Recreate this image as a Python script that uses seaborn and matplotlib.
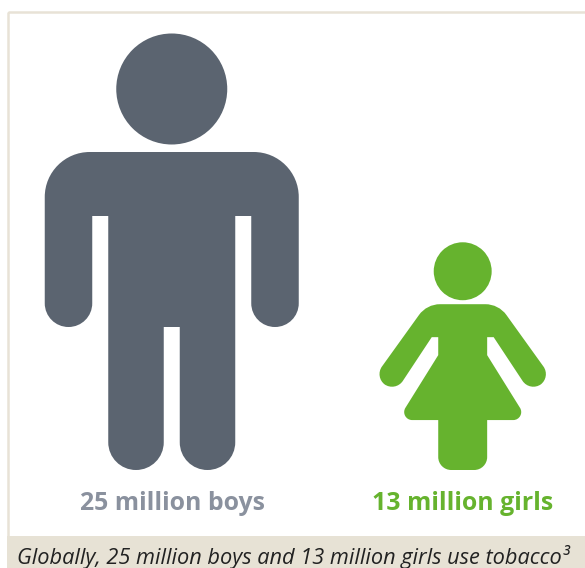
import numpy as np
import matplotlib
matplotlib.use("Agg")
import matplotlib.pyplot as plt
import seaborn as sns
from matplotlib.patches import Circle, PathPatch, Rectangle
from matplotlib.path import Path

# Tobacco users, millions
groups = ["boys", "girls"]
users_millions = [25, 13]
group_labels = ["25 million boys", "13 million girls"]
caption = "Globally, 25 million boys and 13 million girls use tobacco³"

BOY_COLOR = "#5b6470"
GIRL_COLOR = "#66b32e"
BOY_TEXT = "#8a919e"
FRAME = "#e8e2d6"

sns.set_theme(style="white")
plt.rcParams["font.family"] = ["Open Sans", "DejaVu Sans"]

PX_PER_MILLION = 17.44
BASELINE = 470


def rounded_polygon(vertices):
    """Closed Bezier outline from (x, y, corner_radius) vertices."""
    pts = np.array([v[:2] for v in vertices], float)
    radii = [v[2] for v in vertices]
    n = len(pts)
    verts, codes = [], []
    for i in range(n):
        p, prev, nxt = pts[i], pts[i - 1], pts[(i + 1) % n]
        u = (prev - p) / np.linalg.norm(prev - p)
        w = (nxt - p) / np.linalg.norm(nxt - p)
        r = radii[i]
        if r == 0:
            verts.append(p)
            codes.append(Path.MOVETO if i == 0 else Path.LINETO)
            continue
        turn = np.pi - np.arccos(np.clip(u @ w, -1, 1))
        d = r * np.tan(turn / 2)
        h = 4 / 3 * np.tan(turn / 4) * r
        a, b = p + u * d, p + w * d
        verts.append(a)
        codes.append(Path.MOVETO if i == 0 else Path.LINETO)
        verts += [a - u * h, b - w * h, b]
        codes += [Path.CURVE4] * 3
    verts.append(verts[0])
    codes.append(Path.CLOSEPOLY)
    return np.array(verts), codes


# Right half of each outline: x from the body's axis, y upward from the feet
BOY_DESIGN = dict(
    height=436, head=(0, 381, 55.5),
    outline=[(127, 318, 45), (127, 143, 23.7), (79.5, 143, 23.7), (79.5, 254, 0),
             (63.5, 254, 0), (63.5, 0, 27.7), (8, 0, 27.7), (8, 143, 0)],
)
GIRL_DESIGN = dict(
    height=227, head=(0, 199, 29),
    outline=[(36, 166, 26), (88.4, 93.1, 13), (67.4, 77.9, 13), (31, 133, 0), (24.5, 133, 0),
             (24.5, 115, 0), (65, 50, 8), (24.5, 50, 0), (24.5, 0, 13)],
)


def mirrored(half):
    """Complete a left-right symmetric outline from its right half."""
    return list(half) + [(-x, y, r) for x, y, r in reversed(half)]


def draw_person(ax, design, value, cx, color):
    scale = value * PX_PER_MILLION / design["height"]
    hx, hy, hr = design["head"]
    ax.add_patch(Circle((cx + hx * scale, BASELINE - hy * scale), hr * scale, fc=color, ec="none"))
    scaled = [(cx + x * scale, BASELINE - y * scale, r * scale) for x, y, r in mirrored(design["outline"])]
    verts, codes = rounded_polygon(scaled)
    ax.add_patch(PathPatch(Path(verts, codes), fc=color, ec="none"))


fig = plt.figure(figsize=(5.85, 5.68), dpi=100, facecolor="white")
ax = fig.add_axes([0, 0, 1, 1])
ax.set_xlim(0, 585)
ax.set_ylim(568, 0)
ax.axis("off")

# Panel frame and caption band
ax.add_patch(Rectangle((8, 12), 600, 600, fc="none", ec=FRAME, lw=1.8))
ax.add_patch(Rectangle((7, 536), 578, 32, fc="#e7e2d5", ec="none"))

draw_person(ax, BOY_DESIGN, users_millions[0], 171.75, BOY_COLOR)
draw_person(ax, GIRL_DESIGN, users_millions[1], 462.7, GIRL_COLOR)

ax.text(172, 503, group_labels[0], color=BOY_TEXT, fontsize=17.9, fontweight="bold", ha="center", va="center")
ax.text(462.5, 503, group_labels[1], color=GIRL_COLOR, fontsize=17.9, fontweight="bold", ha="center", va="center")
ax.text(17, 557, caption, color="#222222", fontsize=15.7, fontstyle="italic", ha="left", va="center")

sns.despine(ax=ax, left=True, bottom=True)
fig.savefig("out.png", dpi=100)
